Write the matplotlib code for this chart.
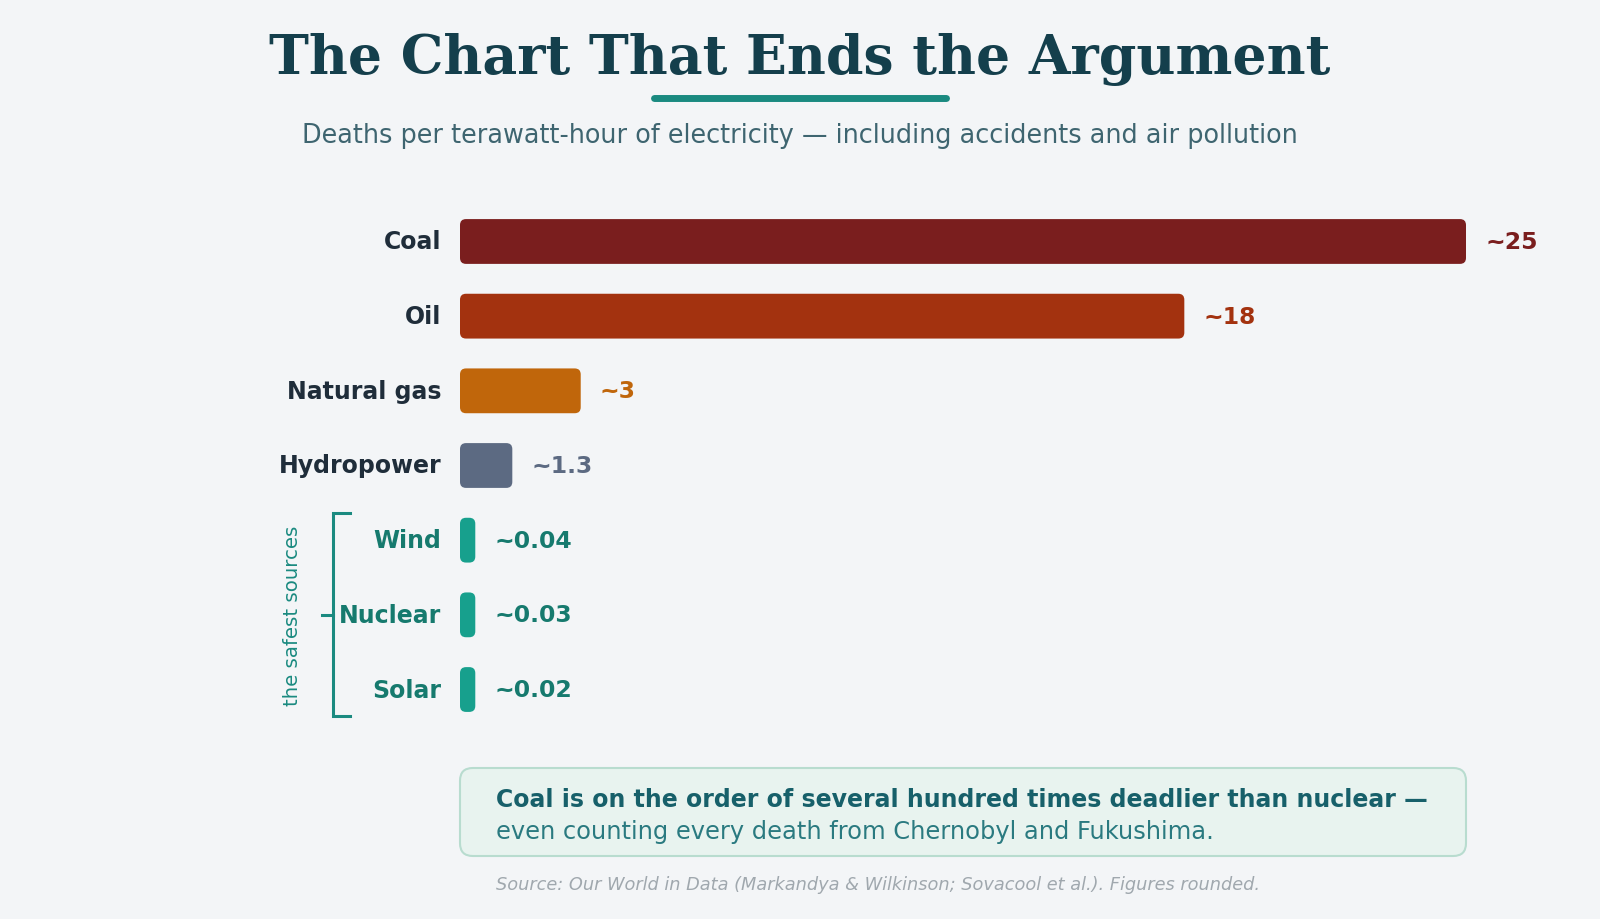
import matplotlib
matplotlib.use('Agg')
import matplotlib.pyplot as plt
from matplotlib.patches import FancyBboxPatch
from matplotlib import transforms

# Data (deaths per TWh, rounded)
sources = ['Coal', 'Oil', 'Natural gas', 'Hydropower', 'Wind', 'Nuclear', 'Solar']
deaths = [25, 18, 3, 1.3, 0.04, 0.03, 0.02]
value_labels = ['~25', '~18', '~3', '~1.3', '~0.04', '~0.03', '~0.02']
safest = ['Wind', 'Nuclear', 'Solar']

bar_colors = ['#7a1e1e', '#a3320f', '#c0660b', '#5c6a82', '#17a08d', '#17a08d', '#17a08d']
value_colors = ['#7a1e1e', '#a3320f', '#c0660b', '#5c6a82', '#167a6e', '#167a6e', '#167a6e']
BG = '#f3f5f7'
TEAL = '#1a8a80'
DARK = '#1f2d3a'

W, H = 1600, 920
fig = plt.figure(figsize=(16, 9.2), dpi=100, facecolor=BG)

# axes placed so 0..25 spans pixel 460..1466, rows centred at 242.5..690.5
row_top, row_bot = 242.5 - 37.35, 690.5 + 37.35
ax = fig.add_axes([460 / W, 1 - row_bot / H, 1006 / W, (row_bot - row_top) / H])
ax.set_facecolor(BG)
ax.set_xlim(0, 25)
ax.set_ylim(len(sources) - 0.5, -0.5)
for s in ax.spines.values():
    s.set_visible(False)
ax.set_xticks([])

# rounded bars (tiny values get a minimum visible width)
min_w = 0.38
bar_h = 0.6
px_x = 1006 / 25
px_y = 74.7
for i, (v, c) in enumerate(zip(deaths, bar_colors)):
    w = max(v, min_w)
    p = FancyBboxPatch((0, i - bar_h / 2), w, bar_h,
                       boxstyle='round,pad=0,rounding_size=%f' % (6 / px_x),
                       mutation_aspect=px_x / px_y,
                       facecolor=c, edgecolor='none')
    ax.add_patch(p)
    ax.annotate(value_labels[i], xy=(w, i), xytext=(19, 0), textcoords='offset pixels',
                va='center', ha='left', fontsize=16.9, fontweight='bold',
                color=value_colors[i])

ax.set_yticks(range(len(sources)))
ax.set_yticklabels(sources, fontsize=17, fontweight='bold')
ax.tick_params(axis='y', length=0, pad=13.5)
for lab in ax.get_yticklabels():
    lab.set_color('#167a6e' if lab.get_text() in safest else DARK)
    lab.set_verticalalignment('center')

# bracket around the safest sources
tr = transforms.blended_transform_factory(fig.transFigure, ax.transData)
xb, xr, xl = 333 / W, 350 / W, 322 / W
ax.plot([xr, xb, xb, xr], [3.64, 3.64, 6.36, 6.36], transform=tr, color=TEAL,
        lw=2.2, clip_on=False, solid_joinstyle='miter')
ax.plot([xl, xb], [5, 5], transform=tr, color=TEAL, lw=2.2, clip_on=False)
ax.text(293 / W, 5, 'the safest sources', transform=tr, rotation=90,
        ha='center', va='center', fontsize=14.2, color=TEAL)

# title + underline + subtitle
fig.text(0.5, 1 - 59 / H, 'The Chart That Ends the Argument', ha='center', va='center',
         family='DejaVu Serif', fontweight='bold', fontsize=38.6, color='#143f4c')
fig.add_artist(plt.Line2D([654 / W, 946 / W], [1 - 99 / H] * 2, color=TEAL, lw=5,
                          solid_capstyle='round'))
fig.text(0.5, 1 - 136 / H,
         'Deaths per terawatt-hour of electricity \u2014 including accidents and air pollution',
         ha='center', va='center', fontsize=18.4, color='#3e6570')

# callout box
box = FancyBboxPatch((460 / W, 1 - 857 / H), 1006 / W, 88 / H,
                     boxstyle='round,pad=0,rounding_size=0.008',
                     mutation_aspect=W / H,
                     transform=fig.transFigure, facecolor='#e8f3ef',
                     edgecolor='#b8dccf', lw=1.5)
fig.add_artist(box)
fig.text(496 / W, 1 - 800 / H,
         'Coal is on the order of several hundred times deadlier than nuclear \u2014',
         ha='left', va='center', fontsize=17, fontweight='bold', color='#17606a')
fig.text(496 / W, 1 - 832 / H,
         'even counting every death from Chernobyl and Fukushima.',
         ha='left', va='center', fontsize=17.4, color='#2a7a80')

fig.text(496 / W, 1 - 885 / H,
         'Source: Our World in Data (Markandya & Wilkinson; Sovacool et al.). Figures rounded.',
         ha='left', va='center', fontsize=12.8, style='italic', color='#a0a8ae')

fig.savefig('out.png', dpi=100, facecolor=BG)
